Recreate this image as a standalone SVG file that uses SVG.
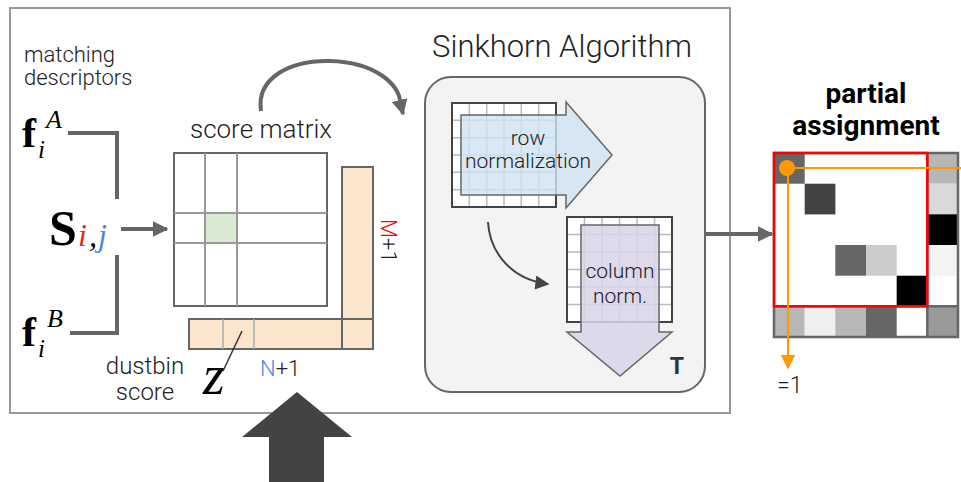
<svg xmlns="http://www.w3.org/2000/svg" width="961" height="482" viewBox="0 0 961 482">
<defs>
<style>
.lbl{font-family:"Roboto Light",Roboto,"Liberation Sans",sans-serif;font-weight:300;fill:#222}
.bold{font-family:Roboto,"Liberation Sans",sans-serif;font-weight:700;fill:#000}
.mb{font-family:"Liberation Serif","DejaVu Serif",serif;font-weight:700;fill:#000}
.mi{font-family:"Liberation Serif","DejaVu Serif",serif;font-style:italic;fill:#000}
.conn{fill:none;stroke:#666;stroke-width:4}
.grid{fill:none;stroke:#bbb;stroke-width:1.5}
.gframe{fill:#fff;stroke:#444;stroke-width:2}
.dust{fill:#fce5cd;stroke:#666;stroke-width:2}
</style>
<marker id="ah" viewBox="0 0 10 10" refX="9" refY="5" markerWidth="4" markerHeight="4" orient="auto"><path d="M0,0 L10,5 L0,10 Z" fill="#666"/></marker>
<marker id="ahs" viewBox="0 0 10 10" refX="9" refY="5" markerWidth="16" markerHeight="14" markerUnits="userSpaceOnUse" orient="auto"><path d="M0,0 L10,5 L0,10 Z" fill="#444"/></marker>
<marker id="aho" viewBox="0 0 10 10" refX="9" refY="5" markerWidth="15" markerHeight="16" markerUnits="userSpaceOnUse" orient="auto"><path d="M0,0 L10,5 L0,10 Z" fill="#ff9900"/></marker>
</defs>

<rect x="10" y="8" width="720" height="405" fill="none" stroke="#999" stroke-width="2"/>

<g id="descriptors">
<text class="lbl" x="24" y="62" font-size="22">matching</text>
<text class="lbl" x="24" y="85" font-size="22">descriptors</text>
</g>

<g id="fA">
<text class="mb" x="22" y="147" font-size="42">f</text>
<text class="mi" x="38" y="158" font-size="25">i</text>
<text class="mi" x="46" y="128" font-size="26">A</text>
</g>

<g id="fB">
<text class="mb" x="22" y="346" font-size="42">f</text>
<text class="mi" x="38" y="357" font-size="25">i</text>
<text class="mi" x="47" y="327" font-size="26">B</text>
</g>

<g id="Sij">
<text class="mb" x="49" y="245" font-size="50">S</text>
<text class="mi" x="78" y="246" font-size="32" style="fill:#e8291c">i</text>
<text class="mi" x="89" y="246" font-size="32">,</text>
<text class="mi" x="98" y="246" font-size="32" style="fill:#4a86e8">j</text>
</g>

<g id="scorematrix">
<text class="lbl" x="261" y="138" font-size="26" text-anchor="middle">score matrix</text>
<rect x="174" y="153" width="153" height="153" fill="#fff" stroke="#666" stroke-width="2"/>
<rect x="205" y="213" width="32" height="30" fill="#d9ead3"/>
<path d="M205,153 V306 M237,153 V306 M174,213 H327 M174,243 H327" stroke="#999" stroke-width="2" fill="none"/>
</g>

<g id="dustbins">
<rect class="dust" x="342" y="167" width="31" height="182"/>
<rect class="dust" x="189" y="319" width="184" height="30"/>
<path d="M223,319 V349 M254,319 V349" stroke="#aaa" stroke-width="1.5"/>
<path d="M342,319 V349 M342,319 H373" stroke="#666" stroke-width="2"/>
<text class="lbl" font-size="22" transform="translate(381,219) rotate(90)"><tspan style="fill:#ff0000">M</tspan>+1</text>
<text class="lbl" x="260" y="376" font-size="22"><tspan style="fill:#4a86e8">N</tspan>+1</text>
</g>

<g id="dustbinscore">
<text class="lbl" x="145" y="374" font-size="24" text-anchor="middle">dustbin</text>
<text class="lbl" x="145" y="400" font-size="24" text-anchor="middle">score</text>
<text class="mi" x="203" y="394" font-size="56">z</text>
<line x1="223" y1="371" x2="242" y2="331" stroke="#333" stroke-width="1.5"/>
</g>

<g id="sinkhorn">
<text class="lbl" x="562" y="57" font-size="31" text-anchor="middle">Sinkhorn Algorithm</text>
<rect x="425" y="77" width="280" height="315" rx="26" fill="#f3f3f3" stroke="#666" stroke-width="2"/>
</g>

<g id="rownorm">
<rect class="gframe" x="452" y="103" width="104" height="104"/>
<path class="grid" d="M469.3,103V207M486.7,103V207M504,103V207M521.3,103V207M538.7,103V207M452,120.3H556M452,137.7H556M452,155H556M452,172.3H556M452,189.7H556"/>
<path d="M452,103H556V207H452Z" fill="none" stroke="#444" stroke-width="2"/>
<path d="M461,115 H566 V102 L612,155 L566,208 V195 H461 Z" fill="#cfe2f3" fill-opacity="0.8" stroke="#666" stroke-width="1.5"/>
<text class="lbl" x="528" y="145" font-size="21" text-anchor="middle">row</text>
<text class="lbl" x="528" y="168" font-size="21" text-anchor="middle">normalization</text>
</g>

<g id="colnorm">
<rect class="gframe" x="567" y="217" width="105" height="105"/>
<path class="grid" d="M584.5,217V322M602,217V322M619.5,217V322M637,217V322M654.5,217V322M567,234.5H672M567,252H672M567,269.5H672M567,287H672M567,304.5H672"/>
<path d="M567,217H672V322H567Z" fill="none" stroke="#444" stroke-width="2"/>
<path d="M581,225 H659 V332 H672 L620,376 L567,332 H581 Z" fill="#d9d2e9" fill-opacity="0.85" stroke="#666" stroke-width="1.5"/>
<text class="lbl" x="620" y="278" font-size="21" text-anchor="middle">column</text>
<text class="lbl" x="620" y="303" font-size="21" text-anchor="middle">norm.</text>
<text class="bold" x="677" y="374" font-size="23" text-anchor="middle" style="fill:#333">T</text>
</g>

<g id="partial">
<text class="bold" x="866" y="103" font-size="28" text-anchor="middle">partial</text>
<text class="bold" x="866" y="135" font-size="28" text-anchor="middle">assignment</text>
<rect x="774" y="153" width="184" height="184" fill="#fff"/>
<rect x="774" y="153" width="30.7" height="30.7" fill="#666"/>
<rect x="804.7" y="183.7" width="30.7" height="30.7" fill="#434343"/>
<rect x="835.3" y="245" width="30.7" height="30.7" fill="#666"/>
<rect x="866" y="245" width="30.7" height="30.7" fill="#ccc"/>
<rect x="896.7" y="275.7" width="30.7" height="30.7" fill="#000"/>
<rect x="927.3" y="153" width="30.7" height="30.7" fill="#b7b7b7"/>
<rect x="927.3" y="183.7" width="30.7" height="30.7" fill="#d9d9d9"/>
<rect x="927.3" y="214.3" width="30.7" height="30.7" fill="#000"/>
<rect x="927.3" y="245" width="30.7" height="30.7" fill="#f3f3f3"/>
<rect x="774" y="306.3" width="30.7" height="30.7" fill="#b7b7b7"/>
<rect x="804.7" y="306.3" width="30.7" height="30.7" fill="#efefef"/>
<rect x="835.3" y="306.3" width="30.7" height="30.7" fill="#b7b7b7"/>
<rect x="866" y="306.3" width="30.7" height="30.7" fill="#666"/>
<rect x="927.3" y="306.3" width="30.7" height="30.7" fill="#999"/>
<path d="M774,153H958V337H774Z M927.3,153V337 M774,306.3H958" fill="none" stroke="#666" stroke-width="2.5"/>
<rect x="774" y="153" width="153.3" height="153.3" fill="none" stroke="#ff0000" stroke-width="2.5"/>
<line x1="787" y1="168" x2="961" y2="168" stroke="#ff9900" stroke-width="2"/>
<line x1="788" y1="168" x2="788" y2="368" stroke="#ff9900" stroke-width="2" marker-end="url(#aho)"/>
<circle cx="787" cy="168" r="8" fill="#ff9900"/>
<text class="lbl" x="777" y="393" font-size="23">=1</text>
</g>

<g id="input">
<polygon points="297,392 352,437 324,437 324,482 269,482 269,437 242,437" fill="#434343"/>
</g>

<g id="connectors">
<path class="conn" d="M68,133 H117 V199 M117,255 V333 H70"/>
<line class="conn" x1="121" y1="229" x2="167" y2="229" marker-end="url(#ah)"/>
<path class="conn" d="M261,111 C256,78 290,60 330,61 C375,62 400,85 400,102 L403,114" marker-end="url(#ah)"/>
<path d="M488,222 C490,256 515,280 548,284" fill="none" stroke="#444" stroke-width="2" marker-end="url(#ahs)"/>
<line class="conn" x1="705" y1="234" x2="772" y2="234" marker-end="url(#ah)"/>
</g>
</svg>
